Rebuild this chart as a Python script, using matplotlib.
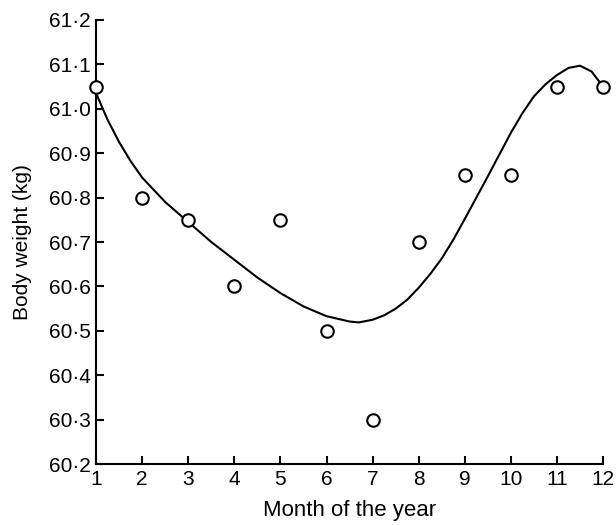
import matplotlib
matplotlib.use("Agg")
import matplotlib.pyplot as plt
from matplotlib.ticker import FuncFormatter

plt.rcParams['font.family'] = ['Liberation Sans', 'DejaVu Sans']

# observed monthly means
months = [1, 2, 3, 4, 5, 6, 7, 8, 9, 10, 11, 12]
weight = [61.05, 60.80, 60.75, 60.60, 60.75, 60.50, 60.30, 60.70, 60.85, 60.85, 61.05, 61.05]

# fitted curve
curve_x = [1.0, 1.25, 1.5, 1.75, 2.0, 2.5, 3.0, 3.5, 4.0, 4.5, 5.0, 5.5, 6.0, 6.5, 6.7,
           7.0, 7.25, 7.5, 7.75, 8.0, 8.25, 8.5, 8.75, 9.0, 9.25, 9.5, 9.75, 10.0, 10.25,
           10.5, 10.75, 11.0, 11.25, 11.5, 11.75, 12.0]
curve_y = [61.035, 60.975, 60.925, 60.882, 60.845, 60.79, 60.745, 60.70, 60.66, 60.62,
           60.585, 60.555, 60.533, 60.521, 60.519, 60.525, 60.535, 60.55, 60.57, 60.597,
           60.628, 60.663, 60.705, 60.752, 60.80, 60.848, 60.897, 60.946, 60.99,
           61.028, 61.055, 61.076, 61.092, 61.097, 61.084, 61.05]

fig = plt.figure(figsize=(6.16, 5.25), dpi=100)
ax = fig.add_axes([0.156, 0.116, 0.823, 0.846])

ax.plot(curve_x, curve_y, color='black', lw=1.5, clip_on=False)
ax.plot(months, weight, 'o', mfc='white', mec='black', ms=9, mew=1.5, clip_on=False, zorder=3)

ax.set_xlim(1, 12)
ax.set_ylim(60.2, 61.2)
ax.set_xticks(months)
ax.set_yticks([60.2 + 0.1 * i for i in range(11)])
ax.yaxis.set_major_formatter(FuncFormatter(lambda v, p: f"{v:.1f}".replace('.', '\u00b7')))

for s in ['top', 'right']:
    ax.spines[s].set_visible(False)
for s in ['left', 'bottom']:
    ax.spines[s].set_linewidth(1.5)
ax.tick_params(direction='in', length=6, width=1.5, labelsize=15, pad=4)

ax.set_xlabel("Month of the year", fontsize=16, labelpad=8)
ax.set_ylabel("Body weight (kg)", fontsize=15, labelpad=12)

fig.savefig("out.png", dpi=100)
